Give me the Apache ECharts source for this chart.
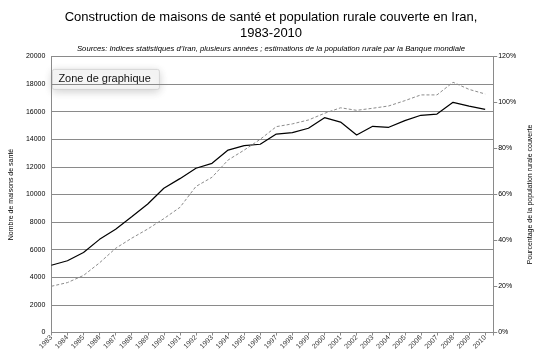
<!DOCTYPE html>
<html>
<head>
<meta charset="utf-8">
<script src="https://cdn.jsdelivr.net/npm/echarts@6/dist/echarts.min.js"></script>
<style>
html,body{margin:0;padding:0;background:#fff;}
#c{width:542px;height:358px;}
</style>
</head>
<body>
<div id="c"></div>
<script>
var years = [1983,1984,1985,1986,1987,1988,1989,1990,1991,1992,1993,1994,1995,1996,1997,1998,1999,2000,2001,2002,2003,2004,2005,2006,2007,2008,2009,2010];
var maisonsSante = [4870,5200,5800,6750,7480,8390,9310,10450,11150,11900,12260,13220,13540,13640,14380,14480,14800,15570,15250,14310,14940,14870,15350,15740,15830,16680,16410,16170];
var populationCouverte = [20.1,21.7,24.8,30.3,36.6,41.0,45.0,49.5,54.4,63.5,67.5,75.0,79.3,84.0,89.5,90.7,92.4,95.3,97.7,96.6,97.5,98.5,100.8,103.3,103.3,108.8,105.7,103.7];
var leftTicks = {min:0, max:20000, interval:2000};
var rightTicks = {min:0, max:120, interval:20};

var FONT = '"Liberation Sans", Arial, sans-serif';
var chart = echarts.init(document.getElementById('c'), null, {renderer:'canvas'});
var axisGray = '#8a8a8a';
chart.setOption({
  animation:false,
  backgroundColor:'#fff',
  title:{
    text:'Construction de maisons de santé et population rurale couverte en Iran,\n1983-2010',
    subtext:'Sources: Indices statistiques d\u2019Iran, plusieurs années ; estimations de la population rurale par la Banque mondiale',
    left:'center', top:4, itemGap:3,
    textStyle:{fontFamily:FONT, fontSize:13, fontWeight:'normal', color:'#000', lineHeight:16},
    subtextStyle:{fontFamily:FONT, fontSize:7.7, fontStyle:'italic', color:'#000', lineHeight:9}
  },
  grid:{left:36, right:42, top:56.5, bottom:25.5, containLabel:false},
  xAxis:{
    type:'value', min:1983, max:2010.5, interval:1,
    axisLine:{show:true, onZero:false, lineStyle:{color:axisGray, width:1}},
    axisTick:{show:true, length:3, lineStyle:{color:axisGray}},
    splitLine:{show:false},
    axisLabel:{rotate:45, fontSize:7, fontFamily:FONT, color:'#333', margin:4,
      formatter:function(v){return (Math.round(v)===v)?String(v):'';}}
  },
  yAxis:[{
    type:'value', min:leftTicks.min, max:leftTicks.max, interval:leftTicks.interval, position:'left',
    name:'Nombre de maisons de santé', nameLocation:'middle', nameGap:30, nameRotate:90,
    nameTextStyle:{fontFamily:FONT, fontSize:7, color:'#000'},
    axisLine:{show:true, lineStyle:{color:axisGray}},
    axisTick:{show:false},
    splitLine:{show:true, lineStyle:{color:axisGray, width:1}},
    axisLabel:{fontSize:7, fontFamily:FONT, color:'#000', margin:6,
      formatter:function(v){return String(v);}}
  },{
    type:'value', min:rightTicks.min, max:rightTicks.max, interval:rightTicks.interval, position:'right',
    name:'Pourcentage de la population rurale couverte', nameLocation:'middle', nameGap:31, nameRotate:90,
    nameTextStyle:{fontFamily:FONT, fontSize:7, color:'#000'},
    axisLine:{show:true, lineStyle:{color:axisGray}},
    axisTick:{show:true, length:4, lineStyle:{color:axisGray}},
    splitLine:{show:false},
    axisLabel:{fontSize:7, fontFamily:FONT, color:'#000', margin:5, formatter:'{value}%'}
  }],
  series:[{
    type:'line', yAxisIndex:0, symbol:'none',
    data:years.map(function(y,i){return [y, maisonsSante[i]];}),
    lineStyle:{color:'#000', width:1.2}
  },{
    type:'line', yAxisIndex:1, symbol:'none',
    data:years.map(function(y,i){return [y, populationCouverte[i]];}),
    lineStyle:{color:'#8c8c8c', width:1, type:[3,2]}
  }],
  graphic:[{
    type:'group', left:52, top:69,
    children:[{
      type:'rect', shape:{x:0, y:0, width:107, height:20, r:2},
      style:{fill:'#f6f6f6', stroke:'#cfcfcf', lineWidth:0.8, shadowBlur:8, shadowColor:'rgba(0,0,0,0.18)', shadowOffsetY:2}
    },{
      type:'text', x:6, y:10,
      style:{text:'Zone de graphique', fontFamily:FONT, fontSize:11, fill:'#111', verticalAlign:'middle', align:'left'}
    }]
  }]
});
</script>
</body>
</html>
